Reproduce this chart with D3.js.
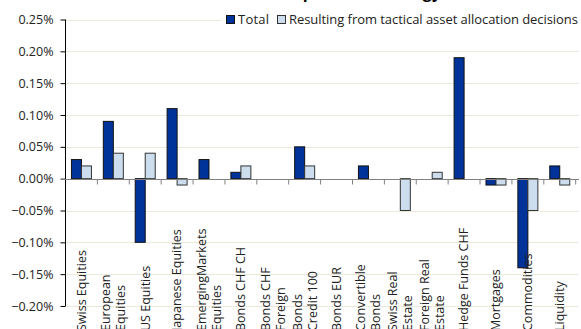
<!DOCTYPE html>
<html>
  <head>
    <meta charset="utf-8">
    <title>Contributions compared to strategy</title>
    <script src="https://d3js.org/d3.v7.min.js"></script>
  </head>
  <body style="margin:0;background:#fff">
    <style>
      text { font-family: "Open Sans", sans-serif; fill: #222; }
    </style>
    <div id="chart"></div>
    <script>

      var width = 581,
        height = 329;

      // categories and their wrapped axis labels
      var categories = ["Swiss Equities", "European Equities", "US Equities", "Japanese Equities",
        "EmergingMarkets Equities", "Bonds CHF CH", "Bonds CHF Foreign", "Bonds Credit 100",
        "Bonds EUR", "Convertible Bonds", "Swiss Real Estate", "Foreign Real Estate",
        "Hedge Funds CHF", "Mortgages", "Commodities", "Liquidity"];
      var labelLines = [["Swiss Equities"], ["European", "Equities"], ["US Equities"], ["Japanese Equities"],
        ["EmergingMarkets", "Equities"], ["Bonds CHF CH"], ["Bonds CHF", "Foreign"], ["Bonds", "Credit 100"],
        ["Bonds EUR"], ["Convertible", "Bonds"], ["Swiss Real", "Estate"], ["Foreign Real", "Estate"],
        ["Hedge Funds CHF"], ["Mortgages"], ["Commodities"], ["Liquidity"]];

      var seriesNames = ["Total", "Resulting from tactical asset allocation decisions"];
      var total = [0.0003, 0.0009, -0.0010, 0.0011, 0.0003, 0.0001, 0, 0.0005,
        0, 0.0002, 0, 0, 0.0019, -0.0001, -0.0014, 0.0002];
      var tactical = [0.0002, 0.0004, 0.0004, -0.0001, 0, 0.0002, 0, 0.0002,
        0, 0, -0.0005, 0.0001, 0, -0.0001, -0.0005, -0.0001];
      var yTicks = [-0.002, -0.0015, -0.001, -0.0005, 0, 0.0005, 0.001, 0.0015, 0.002, 0.0025];

      var colors = ["#003399", "#CCDDEE"];
      var strokes = ["#111", "#333"];

      var svg = d3.select("#chart")
        .append("svg")
          .attr("width", width)
          .attr("height", height)
          .style("display", "block");

      var y = d3.scaleLinear()
        .domain([-0.002, 0.0025])
        .range([306, 19.5]);

      var x = d3.scaleBand()
        .domain(categories)
        .range([65.5, 575.7]);

      var x1 = d3.scaleBand()
        .domain(seriesNames)
        .range([0, 20]);

      // title, mostly cut off at the top
      svg.append("text")
        .attr("x", 10)
        .attr("y", -2)
        .style("font-size", "16px")
        .style("font-weight", "bold")
        .style("fill", "#000")
        .text("Relative contributions to return compared to strategy (in %)");

      // gridlines
      svg.append("g")
        .selectAll("line")
        .data(yTicks.filter((t) => t !== 0))
        .enter().append("line")
          .attr("x1", 65)
          .attr("x2", 579)
          .attr("y1", (d) => Math.round(y(d)) + 0.5)
          .attr("y2", (d) => Math.round(y(d)) + 0.5)
          .attr("stroke", "#EAEAD8")
          .attr("stroke-width", 1);

      // y axis
      var yAxis = d3.axisLeft(y)
        .tickValues(yTicks)
        .tickSize(5)
        .tickFormat(d3.format(".2%"));

      var gy = svg.append("g")
        .attr("transform", "translate(65.5,0)")
        .call(yAxis);
      gy.select(".domain").attr("stroke", "#000").attr("d", "M0," + y(-0.002) + "V" + y(0.0025));
      gy.selectAll(".tick line").attr("stroke", "#000");
      gy.selectAll(".tick text")
        .attr("x", -12)
        .style("font-family", "'Open Sans', sans-serif")
        .style("font-size", "12.5px")
        .style("fill", "#222");

      // bars
      var groups = svg.append("g")
        .selectAll("g")
        .data(categories)
        .enter().append("g")
          .attr("transform", (d) => "translate(" + (x(d) + x.bandwidth() / 2 - 10) + ",0)");

      groups.selectAll("rect")
        .data((d, i) => [total[i], tactical[i]].map((v, j) => ({ v: v, s: j })))
        .enter().append("rect")
          .filter((d) => d.v !== 0)
          .attr("x", (d) => x1(seriesNames[d.s]))
          .attr("width", x1.bandwidth())
          .attr("y", (d) => Math.min(y(d.v), y(0)))
          .attr("height", (d) => Math.abs(y(d.v) - y(0)))
          .attr("fill", (d) => colors[d.s])
          .attr("stroke", (d) => strokes[d.s])
          .attr("stroke-width", 1);

      // zero axis with category ticks
      var xAxis = d3.axisBottom(x)
        .tickSize(0)
        .tickFormat("");
      var gx = svg.append("g")
        .attr("transform", "translate(0," + (Math.round(y(0)) + 0.5) + ")")
        .call(xAxis);
      gx.select(".domain").attr("stroke", "#808080").attr("d", "M61," + 0 + "H579");
      gx.selectAll(".boundary")
        .data(categories.slice(1).concat(["end"]))
        .enter().append("line")
          .attr("x1", (d, i) => x.range()[0] + x.step() * (i + 1))
          .attr("x2", (d, i) => x.range()[0] + x.step() * (i + 1))
          .attr("y1", 0)
          .attr("y2", 5)
          .attr("stroke", "#808080");

      // rotated category labels
      var labels = svg.append("g")
        .selectAll("text")
        .data(categories)
        .enter().append("text")
          .attr("transform", (d) => "translate(" + (x(d) + x.bandwidth() / 2) + ",331) rotate(-90)")
          .style("font-size", "12.5px");

      labels.each(function (d, i) {
        var lines = labelLines[i];
        var t = d3.select(this);
        lines.forEach((line, k) => {
          t.append("tspan")
            .attr("x", 0)
            .attr("y", (k - (lines.length - 1) / 2) * 15)
            .attr("dy", "0.35em")
            .text(line);
        });
      });

      // legend, right aligned against the chart edge
      var legend = svg.append("g");
      legend.append("rect")
        .attr("x", 221).attr("y", 9).attr("width", 360).attr("height", 20)
        .attr("fill", "#fff");
      var legendX = [226, 277];
      seriesNames.forEach((name, i) => {
        legend.append("rect")
          .attr("x", legendX[i] + 0.5).attr("y", 15.5)
          .attr("width", 8).attr("height", 8)
          .attr("fill", colors[i])
          .attr("stroke", strokes[i]);
        legend.append("text")
          .attr("x", legendX[i] + 12)
          .attr("y", 19.5)
          .attr("dy", "0.35em")
          .style("font-size", "13px")
          .attr("textLength", i === 0 ? 31 : 289)
          .text(name);
      });

    </script>
  </body>
</html>
